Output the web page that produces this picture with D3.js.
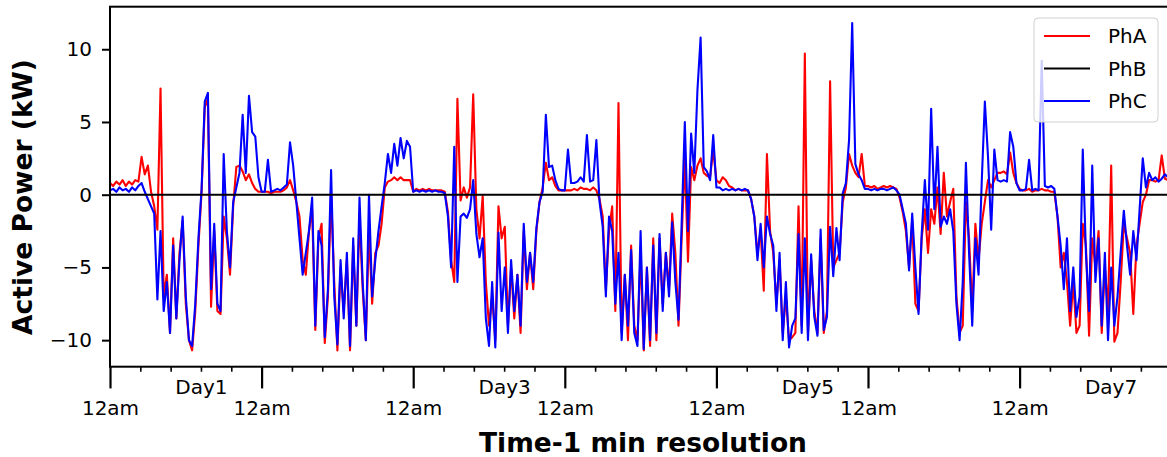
<!DOCTYPE html>
<html>
<head>
<meta charset="utf-8">
<script src="https://cdn.jsdelivr.net/npm/d3@7"></script>
<style>
  body { margin: 0; background: #fff; }
  svg { display: block; }
</style>
</head>
<body>
<div id="chart"></div>
<script>

// ━━━━━━━━━━━━━━━━━━━━━━━━━━━━━━━━━━━━━━━━━━━━━━━━━━━━━━━━━━━━━━━━━━━━━━━━━━━━━━━━━━━━━
// Data: one week, every 30 min (kW) ////////////////////////////
// ━━━━━━━━━━━━━━━━━━━━━━━━━━━━━━━━━━━━━━━━━━━━━━━━━━━━━━━━━━━━━━━━━━━━━━━━━━━━━━━━━━━━━━

const stepMinutes = 30;

// one row per day, 48 samples each
const phA = [
  0.8,0.6,0.9,0.7,1.0,0.6,0.9,0.7,1.0,0.9,2.6,1.4,2.0,0.2,-0.8,-2.4,7.3,-7.0,-5.5,-9.5,-3.0,-8.5,-4.0,-1.8,-7.5,-10.0,-10.7,-8.0,-3.5,0.2,6.0,6.6,-7.7,-2.5,-8.0,-8.2,-1.5,-3.0,-5.5,-0.8,1.9,2.0,1.6,1.0,1.4,0.8,0.4,0.2,
  0.2,0.2,0.2,0.1,0.2,0.2,0.2,0.3,0.5,1.0,0.3,-0.5,-1.5,-4.5,-5.5,-2.5,-1.0,-9.3,-3.0,-2.0,-10.2,-7.0,0.0,-6.0,-10.7,-5.0,-8.0,-4.5,-10.7,-3.5,-9.0,-1.5,-6.5,-10.0,-2.5,-7.5,-4.0,-3.5,-2.0,0.5,0.9,1.0,1.2,1.0,1.2,1.0,1.0,1.0,
  0.2,0.4,0.3,0.4,0.3,0.4,0.3,0.3,0.3,0.3,0.2,-1.2,-4.5,-6.0,6.6,-0.4,0.5,-0.2,0.5,6.9,-1.0,-3.0,-0.1,-6.0,-9.0,-7.0,-10.0,-0.8,-3.0,-2.2,-9.0,-5.0,-8.5,-5.5,-9.5,-2.5,-6.5,-4.0,-6.5,-2.5,-0.5,0.5,2.2,1.0,1.2,0.6,0.3,0.3,
  0.3,0.3,0.3,0.4,0.3,0.5,0.4,0.4,0.3,0.5,0.3,-0.3,-1.5,-6.5,-2.5,-0.8,-8.0,6.3,-9.5,-5.5,-10.0,-3.5,-9.0,-10.0,-4.0,-10.7,-5.0,-10.4,-3.0,-10.0,-3.0,-7.5,-4.0,-6.5,-1.3,-4.0,-9.0,-3.0,2.5,-4.6,1.9,1.0,2.0,2.5,1.5,1.3,1.2,3.1,
  1.0,0.8,1.2,1.0,0.6,0.5,0.3,0.4,0.3,0.3,0.3,-0.3,-1.5,-4.0,-2.5,-6.6,2.8,-2.5,-4.0,-7.5,-4.5,-9.5,-7.0,-10.0,-9.8,-9.5,-0.8,-9.0,9.7,-9.5,-4.5,-8.0,-9.5,-3.0,-9.5,-8.0,7.8,-5.0,-4.5,-4.0,-0.5,0.5,2.8,2.0,1.5,1.2,2.8,0.6,
  0.6,0.5,0.6,0.4,0.5,0.6,0.5,0.6,0.5,0.4,-0.2,-1.2,-2.5,-5.0,-1.8,-7.5,-8.0,-3.0,-1.0,-4.0,-1.0,-2.0,0.5,-2.7,1.5,-1.5,-0.5,0.4,-7.0,-9.5,-9.0,-0.5,-3.0,-8.0,-2.0,-4.5,-2.0,-0.5,1.0,0.5,1.0,1.5,1.5,1.6,1.4,2.9,1.5,0.8,
  0.4,0.3,0.3,0.4,0.2,0.3,0.3,0.4,0.3,0.3,0.2,0.2,-1.5,-5.0,-4.0,-6.0,-9.0,-6.0,-9.5,-9.0,-2.0,-3.5,-9.7,-3.0,-5.0,-2.5,-9.5,-5.0,-8.0,2.0,-10.1,-9.5,-6.0,-2.0,-3.0,-4.0,-8.2,-3.5,-2.0,-0.5,0.0,1.0,1.0,0.9,1.0,2.7,1.1,1.0
];

const phC = [
  0.3,0.4,0.2,0.5,0.3,0.4,0.2,0.5,0.3,0.6,0.8,0.2,-0.3,-0.8,-1.3,-7.2,-2.5,-8.0,-6.0,-9.5,-3.5,-8.5,-4.5,-1.5,-7.0,-10.0,-10.4,-7.5,-3.0,0.4,6.4,7.0,-6.5,-2.0,-7.5,-8.0,2.8,-2.5,-5.0,-0.5,0.5,1.5,5.5,1.5,6.8,4.3,4.0,1.2,
  0.2,0.2,2.4,0.2,0.3,0.4,0.3,0.5,0.7,3.6,2.0,-0.5,-3.0,-5.5,-4.0,-2.5,-0.2,-9.0,-2.5,-3.5,-9.8,-6.5,1.7,-7.0,-10.3,-4.5,-8.5,-4.0,-10.4,-3.0,-9.0,-0.2,-6.0,-10.0,0.0,-7.0,-4.5,-2.5,-0.8,0.8,2.8,1.5,3.5,2.0,3.9,2.5,3.7,3.3,
  0.2,0.3,0.2,0.3,0.2,0.3,0.2,0.3,0.2,0.2,0.1,-1.5,-5.0,3.3,-6.0,-1.5,-1.3,-1.6,-1.0,1.0,-2.7,-4.3,-3.0,-8.5,-10.4,-6.0,-10.5,-2.6,-8.0,-5.0,-9.5,-4.5,-8.0,-5.5,-9.0,-2.0,-6.0,-4.0,-6.0,-2.3,-0.5,0.2,5.5,1.9,2.0,1.0,0.4,0.3,
  0.3,3.1,0.8,0.8,0.9,1.2,0.9,4.1,0.9,1.0,3.75,-0.5,-2.2,-7.0,-1.5,-2.5,-7.5,-4.0,-10.0,-5.5,-9.0,-3.8,-9.5,-10.4,-2.5,-10.6,-5.0,-10.0,-3.5,-9.5,-2.7,-8.0,-4.0,-7.0,-1.9,-6.0,-8.6,-2.0,5.0,-2.5,4.2,1.5,7.2,10.8,1.9,1.6,1.0,4.1,
  0.5,0.5,0.3,0.4,0.3,0.4,0.3,0.4,0.3,0.4,0.3,-0.3,-1.5,-4.5,-2.0,-5.0,-1.5,-2.7,-3.5,-8.0,-4.0,-10.0,-6.0,-10.5,-9.0,-8.5,-2.7,-9.5,-3.0,-10.0,-4.1,-8.4,-9.7,-2.4,-9.3,-8.4,-2.2,-5.6,-2.3,-4.5,0.1,0.8,3.75,11.8,2.1,1.4,1.0,0.4,
  0.4,0.3,0.4,0.3,0.4,0.4,0.3,0.4,0.5,0.3,0.0,-1.0,-2.0,-5.2,-1.3,-5.0,-8.2,-2.7,1.0,-2.4,5.9,-1.0,3.3,-2.2,-1.5,-2.0,-1.0,-2.5,-7.5,-10.0,-6.0,2.2,-4.0,-9.0,-3.0,-5.5,0.8,6.4,2.6,-2.4,3.1,1.0,0.9,1.0,0.9,4.3,3.3,0.8,
  0.3,0.3,0.4,2.4,0.3,0.4,0.3,9.2,0.6,0.5,0.6,0.4,-1.5,-3.5,-6.5,-3.0,-8.0,-5.0,-8.4,-7.0,3.1,-4.0,-8.0,2.0,-6.0,-3.0,-9.0,-4.0,-10.0,-5.0,-9.0,-7.0,-4.0,-1.1,-3.5,-5.5,-2.5,-4.5,-1.0,2.5,0.5,1.5,1.0,1.2,0.9,1.1,1.4,1.2
];

// PhB sits flat on 0 kW for the whole week
const phB = [0, 0];
const phBMinutes = [0, (phA.length - 1) * stepMinutes];

const seriesNames  = ['PhA', 'PhB', 'PhC'];
const seriesColors = ['#ff0000', '#000000', '#0000ff'];

const yTicks       = [-10, -5, 0, 5, 10];
const majorDays    = [0, 1, 2, 3, 4, 5, 6];           // 12am ticks
const majorLabel   = '12am';
const dayLabelAt   = [0.6, 2.6, 4.6, 6.6];             // minor tick positions (days) that carry a label
const dayLabels    = ['Day1', 'Day3', 'Day5', 'Day7'];

// ━━━━━━━━━━━━━━━━━━━━━━━━━━━━━━━━━━━━━━━━━━━━━━━━━━━━━━━━━━━━━━━━━━━━━━━━━━━━━━━━━━━━
// SVG setup //////////////////////////////////////////////////////////////////////////
// ━━━━━━━━━━━━━━━━━━━━━━━━━━━━━━━━━━━━━━━━━━━━━━━━━━━━━━━━━━━━━━━━━━━━━━━━━━━━━━━━━━━━

const width = 1167;
const height = 457;
const font = 'DejaVu Sans';

const plot = { left: 110, top: 6.7, width: 7 * 151.6, height: 360 };

const svg = d3.select('#chart').append('svg')
  .attr('width', width)
  .attr('height', height)
  .attr('viewBox', [0, 0, width, height]);

const x = d3.scaleLinear()
  .domain([0, 7 * 1440])
  .range([plot.left, plot.left + plot.width]);

// matplotlib style autoscale: data extent plus 5 % each side
const [lo, hi] = d3.extent(phA.concat(phC));
const pad = (hi - lo) * 0.05;
const y = d3.scaleLinear()
  .domain([lo - pad, hi + pad])
  .range([plot.top + plot.height, plot.top]);

svg.append('defs').append('clipPath').attr('id', 'clip')
  .append('rect')
  .attr('x', plot.left).attr('y', plot.top)
  .attr('width', plot.width).attr('height', plot.height);

// ━━━━━━━━━━━━━━━━━━━━━━━━━━━━━━━━━━━━━━━━━━━━━━━━━━━━━━━━━━━━━━━━━━━━━━━━━━━━━━━━━━━━
// Lines //////////////////////////////////////////////////////////////////////////////
// ━━━━━━━━━━━━━━━━━━━━━━━━━━━━━━━━━━━━━━━━━━━━━━━━━━━━━━━━━━━━━━━━━━━━━━━━━━━━━━━━━━━━

const line = d3.line()
  .x(d => x(d[0]))
  .y(d => y(d[1]));

const toPoints = arr => arr.map((v, i) => [i * stepMinutes, v]);

const series = [
  toPoints(phA),
  phBMinutes.map((m, i) => [m, phB[i]]),
  toPoints(phC)
];

const lines = svg.append('g').attr('clip-path', 'url(#clip)');

// A, then C on top, then the black PhB at 0 over both
[0, 2, 1].forEach(k => {
  lines.append('path')
    .datum(series[k])
    .attr('d', line)
    .attr('fill', 'none')
    .attr('stroke', seriesColors[k])
    .attr('stroke-width', 2.1)
    .attr('stroke-linejoin', 'round');
});

// ━━━━━━━━━━━━━━━━━━━━━━━━━━━━━━━━━━━━━━━━━━━━━━━━━━━━━━━━━━━━━━━━━━━━━━━━━━━━━━━━━━━━
// Axes ///////////////////////////////////////////////////////////////////////////////
// ━━━━━━━━━━━━━━━━━━━━━━━━━━━━━━━━━━━━━━━━━━━━━━━━━━━━━━━━━━━━━━━━━━━━━━━━━━━━━━━━━━━━

const yAxis = svg.append('g')
  .attr('transform', `translate(${plot.left},0)`)
  .call(d3.axisLeft(y).tickValues(yTicks).tickSize(8).tickPadding(10));

const bottom = plot.top + plot.height;

// minor ticks every 0.2 day, a few of them labelled DayN
const minorDays = d3.range(0, 35).map(i => i / 5).filter(d => !majorDays.includes(d) && d < 7);
const xMinor = svg.append('g')
  .attr('transform', `translate(0,${bottom})`)
  .call(d3.axisBottom(x)
    .tickValues(minorDays.map(d => d * 1440))
    .tickSize(5)
    .tickPadding(8)
    .tickFormat(m => {
      const k = dayLabelAt.findIndex(d => Math.abs(d * 1440 - m) < 1);
      return k >= 0 ? dayLabels[k] : '';
    }));

const xMajor = svg.append('g')
  .attr('transform', `translate(0,${bottom})`)
  .call(d3.axisBottom(x)
    .tickValues(majorDays.map(d => d * 1440))
    .tickSize(21.7)
    .tickPadding(12.5)
    .tickFormat(() => majorLabel));

[yAxis, xMinor, xMajor].forEach(g => {
  g.attr('font-family', font).attr('font-size', 20);
  g.select('.domain').remove();
  g.selectAll('text').attr('fill', '#000');
});
yAxis.selectAll('.tick line').attr('stroke-width', 2);
xMajor.selectAll('.tick line').attr('stroke-width', 2.2);
xMinor.selectAll('.tick line').attr('stroke-width', 1.6);

// frame (right spine falls outside the window, like the original)
svg.append('rect')
  .attr('x', plot.left).attr('y', plot.top)
  .attr('width', plot.width).attr('height', plot.height)
  .attr('fill', 'none')
  .attr('stroke', '#000')
  .attr('stroke-width', 2);

// axis titles
svg.append('text')
  .attr('x', 643).attr('y', 452)
  .attr('text-anchor', 'middle')
  .attr('font-family', font).attr('font-weight', 'bold').attr('font-size', 26.5)
  .text('Time-1 min resolution');

svg.append('text')
  .attr('transform', 'translate(32,197) rotate(-90)')
  .attr('text-anchor', 'middle')
  .attr('font-family', font).attr('font-weight', 'bold').attr('font-size', 26.5)
  .text('Active Power (kW)');

// ━━━━━━━━━━━━━━━━━━━━━━━━━━━━━━━━━━━━━━━━━━━━━━━━━━━━━━━━━━━━━━━━━━━━━━━━━━━━━━━━━━━━
// Legend /////////////////////////////////////////////////////////////////////////////
// ━━━━━━━━━━━━━━━━━━━━━━━━━━━━━━━━━━━━━━━━━━━━━━━━━━━━━━━━━━━━━━━━━━━━━━━━━━━━━━━━━━━━

const legend = svg.append('g').attr('transform', 'translate(1034,18)');

legend.append('rect')
  .attr('width', 124).attr('height', 104).attr('rx', 4)
  .attr('fill', '#fff').attr('fill-opacity', 0.8)
  .attr('stroke', '#d0d0d0').attr('stroke-width', 1);

const rows = legend.selectAll('g.row')
  .data(seriesNames)
  .join('g')
  .attr('class', 'row')
  .attr('transform', (d, i) => `translate(0,${18 + i * 32.5})`);

rows.append('line')
  .attr('x1', 10).attr('x2', 56)
  .attr('stroke', (d, i) => seriesColors[i])
  .attr('stroke-width', 2);

rows.append('text')
  .attr('x', 74).attr('dy', '0.36em')
  .attr('font-family', font).attr('font-size', 20)
  .text(d => d);

</script>
</body>
</html>
